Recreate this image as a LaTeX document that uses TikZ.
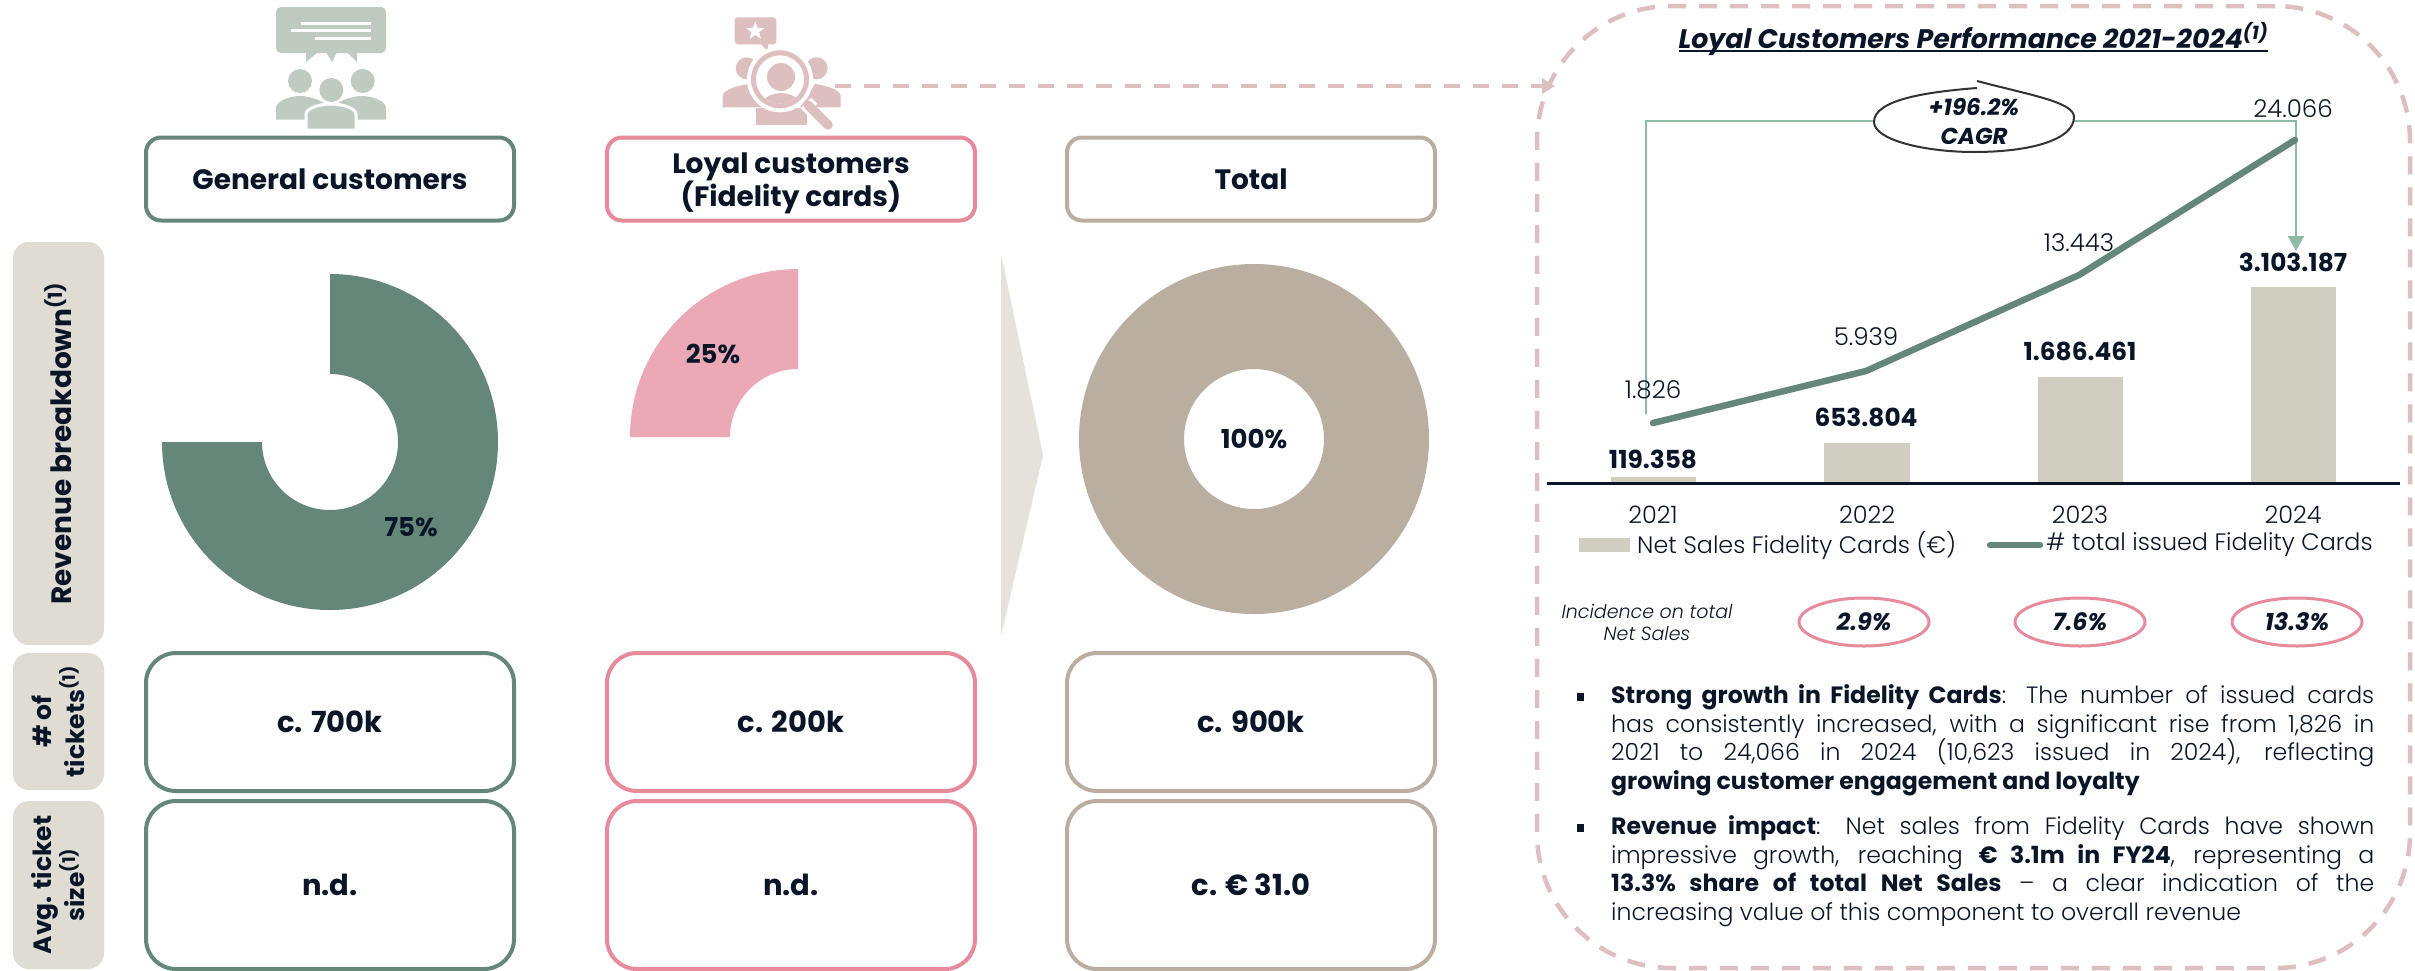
\documentclass[tikz,border=0pt]{standalone}
\usepackage{fontspec}
\setmainfont{Poppins}[UprightFont=* Light,BoldFont=* Bold,ItalicFont=* Light Italic,BoldItalicFont=* Bold Italic]
\usetikzlibrary{arrows.meta,shapes.geometric,calc}
\definecolor{ink}{HTML}{0A1628}
\definecolor{sage}{HTML}{64877A}
\definecolor{rosy}{HTML}{E68A9C}
\definecolor{taupe}{HTML}{BAAEA0}
\definecolor{paleg}{HTML}{BFCBC0}
\definecolor{palep}{HTML}{DDBFC0}
\definecolor{labelbg}{HTML}{DEDCD3}
\definecolor{barc}{HTML}{D0CEC0}
\definecolor{mint}{HTML}{8DB9A5}
\definecolor{rosefill}{HTML}{EBA9B8}
\definecolor{arrowbg}{HTML}{E5E2DB}
\tikzset{
 basebox/.style={draw,line width=4pt,fill=white,inner sep=0pt,align=center,text=ink,font=\fontsize{28}{33}\selectfont\bfseries},
 headbox/.style={basebox,minimum width=368pt,minimum height=83pt,rounded corners=15pt},
 cellbox/.style={basebox,minimum width=368pt,rounded corners=30pt,font=\fontsize{29}{33}\selectfont\bfseries},
 sidebox/.style={fill=labelbg,rounded corners=16pt,minimum width=91pt,inner sep=0pt,rotate=90,align=center,text=ink,font=\fontsize{25}{33}\selectfont\bfseries},
 pct/.style={text=ink,font=\fontsize{26}{28}\selectfont\bfseries},
 val/.style={text=ink,font=\fontsize{24.5}{26}\selectfont},
 sales/.style={text=ink,font=\fontsize{24.8}{26}\selectfont\bfseries},
 year/.style={text=ink,font=\fontsize{24}{26}\selectfont},
 legendt/.style={text=ink,anchor=west,inner sep=0pt,font=\fontsize{23.8}{26}\selectfont},
 inc/.style={draw=rosy,line width=3pt,ellipse,fill=white,minimum width=130pt,minimum height=48pt,inner sep=0pt,text=ink,font=\fontsize{24}{26}\selectfont\bfseries\itshape},
 bar/.style={fill=barc},
 body/.style={text=ink,inner sep=0pt,anchor=north west,text width=763pt,align=justify,font=\fontsize{23.6}{28.8}\selectfont},
 bull/.style={fill=ink},
}
\begin{document}
\begin{tikzpicture}[x=1pt,y=-1pt]
\useasboundingbox (0,0) rectangle (2415,970);
\fill[white] (0,0) rectangle (2415,970);

% ---- general icon
\begin{scope}[paleg]
\fill[rounded corners=5pt] (276,7) rectangle (386,53);
\fill (306,52) -- (306,62) -- (318,52) -- (326,52) -- (332,62) -- (337,52) -- (347,52) -- (357,62) -- (357,52) -- cycle;
\fill (300,81) circle[radius=12pt] (362.7,81) circle[radius=12pt];
\fill (276,119.5) -- (276,108) .. controls (276,101) and (290,96) .. (300,96) .. controls (310,96) and (325,101) .. (330,108) -- (330,119.5) -- cycle;
\fill (386,119.5) -- (386,108) .. controls (386,101) and (372,96) .. (362,96) .. controls (352,96) and (337,101) .. (332,108) -- (332,119.5) -- cycle;
\fill (331.3,90) circle[radius=12pt];
\fill[draw=white,line width=3pt] (306,130) -- (306,114) .. controls (306,109) and (318,104) .. (331,104) .. controls (344,104) and (356,109) .. (356,114) -- (356,130) -- cycle;
\fill[white] (300,128.5) rectangle (362,135);
\end{scope}
\draw[white,line width=3pt] (300.7,23) -- (371,23) (291.3,30) -- (371,30) (315.3,38) -- (371,38);

% ---- loyal icon
\begin{scope}[palep]
\fill[rounded corners=3pt] (734.7,17.3) rectangle (776.3,44.3);
\fill (760,43) -- (768,52) -- (768,43) -- cycle;
\fill (746.7,68.3) circle[radius=11pt] (816.7,68.3) circle[radius=11pt];
\fill (722.7,107.3) -- (722.7,96) .. controls (722.7,90) and (738,85) .. (750,84) -- (765,107.3) -- cycle;
\fill (840.7,107.3) -- (840.7,96) .. controls (840.7,90) and (828,86) .. (815,84) -- (800,107.3) -- cycle;
\fill (756,108) rectangle (807,125);
\fill[white] (780,79.3) circle[radius=33pt];
\fill (780,79.3) circle[radius=29pt];
\fill[white] (780,79.3) circle[radius=24pt];
\fill (781,77) circle[radius=14pt];
\begin{scope}
\clip (780,79.3) circle[radius=24pt];
\fill (781,120) circle[radius=27pt];
\end{scope}
\draw[white,line width=15pt] (806,103) -- (812,109);
\draw[palep,line width=9.5pt,line cap=round] (808,105) -- (828,125);
\end{scope}
\node[star,star points=5,star point ratio=2.4,fill=white,minimum size=19pt,inner sep=0pt] (starmark) at (755.3,31) {};

% ---- panel
\node[draw=palep,line width=4.5pt,dash pattern=on 18pt off 13pt,rounded corners=135pt,minimum width=873pt,minimum height=962pt,inner sep=0pt] (panel) at (1973.5,487) {};
\coordinate (iconout) at (835,86);
\coordinate (panelin) at (1555,86);
\draw[palep,line width=4.5pt,dash pattern=on 16pt off 13pt,-{Triangle[length=13pt,width=15pt]}] (iconout) -- (panelin);

% ---- header row
\node[headbox,draw=sage] (hgen) at (330,179) {General customers};
\node[headbox,draw=rosy] (hloy) at (791,179) {\rule{0pt}{29pt}Loyal customers\\(Fidelity cards)};
\node[headbox,draw=taupe] (htot) at (1251,179) {Total};

% ---- side labels
\node[sidebox,minimum width=403pt,minimum height=91pt,font=\fontsize{28}{33}\selectfont\bfseries] (srev) at (58.5,443.5) {Revenue breakdown\textsuperscript{(1)}};
\node[sidebox,minimum width=137pt,minimum height=91pt] (stic) at (58.5,721.5) {\# of\\tickets\textsuperscript{(1)}};
\node[sidebox,minimum width=168pt,minimum height=91pt] (ssiz) at (58.5,885) {Avg. ticket\\size\textsuperscript{(1)}};

% ---- pies
\fill[sage] (330,274) arc[start angle=90,end angle=-180,radius=168pt] -- (262,442) arc[start angle=-180,end angle=90,radius=68pt] -- cycle;
\fill[rosefill] (798,269) arc[start angle=90,end angle=180,radius=168pt] -- (730,437) arc[start angle=180,end angle=90,radius=68pt] -- cycle;
\fill[taupe,even odd rule] (1254,439) circle[radius=175pt] (1254,439) circle[radius=70pt];
\fill[arrowbg] (1001,254) -- (1043,455) -- (1001,636) -- cycle;
\node[pct] (p75) at (411,527) {75\%};
\node[pct] (p25) at (713,354) {25\%};
\node[pct] (p100) at (1254,439) {100\%};

% ---- rows
\node[cellbox,draw=sage,minimum height=138pt] (t1) at (330,722) {c. 700k};
\node[cellbox,draw=rosy,minimum height=138pt] (t2) at (791,722) {c. 200k};
\node[cellbox,draw=taupe,minimum height=138pt] (t3) at (1251,722) {c. 900k};
\node[cellbox,draw=sage,minimum height=168pt] (a1) at (330,885) {n.d.};
\node[cellbox,draw=rosy,minimum height=168pt] (a2) at (791,885) {n.d.};
\node[cellbox,draw=taupe,minimum height=168pt] (a3) at (1251,885) {c. € 31.0};

% ---- title
\node[text=ink,font=\fontsize{26.8}{30}\selectfont\bfseries\itshape] (title) at (1973.5,39) {Loyal Customers Performance 2021-2024\textsuperscript{(1)}};
\draw[ink,line width=1.6pt] (1679,51) -- (2268,51);

% ---- chart bars
\fill[bar] (1611,477) rectangle (1696,483);
\fill[bar] (1824,443) rectangle (1910,483);
\fill[bar] (2038,377) rectangle (2123,483);
\fill[bar] (2251,287) rectangle (2336,483);
\coordinate (axl) at (1547,483.5);
\coordinate (axr) at (2400,483.5);
\draw[ink,line width=2.8pt] (axl) -- (axr);

% ---- CAGR bracket
\coordinate (cg0) at (1646,414);
\coordinate (cg1) at (1646,121);
\coordinate (cg2) at (2296,121);
\coordinate (cg3) at (2296,251);
\draw[mint,line width=2pt,-{Triangle[length=15pt,width=16pt]}] (cg0) -- (cg1) -- (cg2) -- (cg3);
\node[ellipse,fill=white,minimum width=200pt,minimum height=70pt,inner sep=0pt,align=center,text=ink,yshift=-4pt,font=\fontsize{23}{29}\selectfont\bfseries\itshape] (cagr) at (1974,117) {+196.2\%\\CAGR};
\draw[black!80,line width=2pt] (1977,88) .. controls (1925,92) and (1874,100) .. (1874,122) .. controls (1874,140) and (1925,152) .. (1974,152) .. controls (2030,152) and (2074,140) .. (2074,117) .. controls (2074,102) and (2030,95) .. (1977,81);

% ---- line
\coordinate (l1) at (1653,423);
\coordinate (l2) at (1866,371);
\coordinate (l3) at (2079,275);
\coordinate (l4) at (2295,140);
\draw[sage,line width=6.5pt,line join=round,line cap=round] (l1) -- (l2) -- (l3) -- (l4);
\node[val] (v1) at (1653,390) {1.826};
\node[val] (v2) at (1866,337) {5.939};
\node[val] (v3) at (2079,243) {13.443};
\node[val] (v4) at (2293,109) {24.066};
\node[sales] (s1) at (1653,459) {119.358};
\node[sales] (s2) at (1866,417) {653.804};
\node[sales] (s3) at (2080,351) {1.686.461};
\node[sales] (s4) at (2293,262) {3.103.187};
\node[year] (y1) at (1653,515) {2021};
\node[year] (y2) at (1867,515) {2022};
\node[year] (y3) at (2080,515) {2023};
\node[year] (y4) at (2293,515) {2024};

% ---- legend
\fill[bar] (1579,538) rectangle (1630,552);
\node[legendt] (lg1) at (1637,545) {Net Sales Fidelity Cards (€)};
\coordinate (lga) at (1990,545);
\coordinate (lgb) at (2040,545);
\draw[sage,line width=6.5pt,line cap=round] (lga) -- (lgb);
\node[legendt] (lg2) at (2046,545) {\# total issued Fidelity Cards};

% ---- incidence
\node[text=ink,align=center,font=\fontsize{19}{22}\selectfont\itshape] (inclab) at (1647,622) {Incidence on total\\Net Sales};
\node[inc] (i1) at (1864,622) {2.9\%};
\node[inc] (i2) at (2080,622) {7.6\%};
\node[inc] (i3) at (2297,622) {13.3\%};

% ---- bullets
\fill[bull] (1576.5,693) rectangle (1583.5,701);
\fill[bull] (1576.5,824) rectangle (1583.5,832);
\node[body] (b1) at (1611,683) {\strut\textbf{Strong growth in Fidelity Cards}: The number of issued cards\linebreak has consistently increased, with a significant rise from 1,826 in\linebreak 2021 to 24,066 in 2024 (10,623 issued in 2024), reflecting\linebreak \textbf{growing customer engagement and loyalty}\par};
\node[body] (b2) at (1611,814) {\strut\textbf{Revenue impact}: Net sales from Fidelity Cards have shown\linebreak impressive growth, reaching \textbf{€ 3.1m in FY24}, representing a\linebreak \textbf{13.3\% share of total Net Sales} – a clear indication of the\linebreak increasing value of this component to overall revenue\par};
\end{tikzpicture}
\end{document}
